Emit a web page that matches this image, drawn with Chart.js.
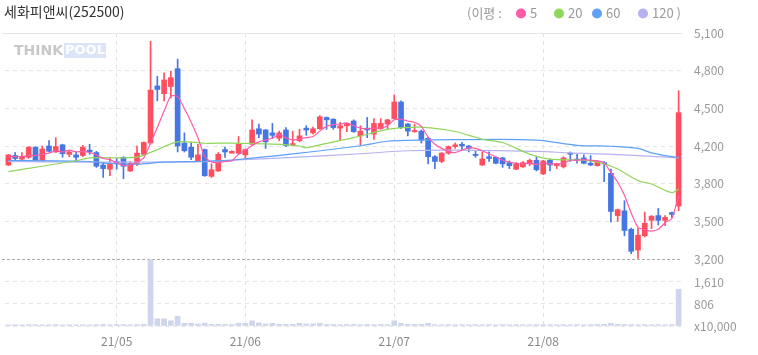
<!DOCTYPE html>
<html>
<head>
<meta charset="utf-8">
<script src="https://cdn.jsdelivr.net/npm/chart.js@4.4.1/dist/chart.umd.min.js"></script>
<style>
html, body { margin: 0; padding: 0; background: #fff; }
canvas { display: block; }
</style>
</head>
<body>
<canvas id="chart" width="758" height="355"></canvas>
<script>
// 거래일 (21/04/09 ~ 21/08/31)
var tradingDays = [
    ['04', [9, 12, 13, 14, 15, 16, 19, 20, 21, 22, 23, 26, 27, 28, 29, 30]],
    ['05', [3, 4, 6, 7, 10, 11, 12, 13, 14, 17, 18, 20, 21, 24, 25, 26, 27, 28, 31]],
    ['06', [1, 2, 3, 4, 7, 8, 9, 10, 11, 14, 15, 16, 17, 18, 21, 22, 23, 24, 25, 28, 29, 30]],
    ['07', [1, 2, 5, 6, 7, 8, 9, 12, 13, 14, 15, 16, 19, 20, 21, 22, 23, 26, 27, 28, 29, 30]],
    ['08', [2, 3, 4, 5, 6, 9, 10, 11, 12, 13, 17, 18, 19, 20, 23, 24, 25, 26, 27, 30, 31]]
];
var dates = [];
tradingDays.forEach(function (m) {
    m[1].forEach(function (d) { dates.push('21/' + m[0] + '/' + (d < 10 ? '0' + d : d)); });
});

// 시가 / 고가 / 저가 / 종가
var opens = [3990, 4070, 4040, 4055, 4140, 4025, 4150, 4100, 4160, 4080, 4075, 4070, 4115, 4095, 3990, 3955, 4020, 4055, 3940, 4000,
    4080, 4175, 4655, 4590, 4650, 4800, 4175, 4140, 4025, 4120, 3895, 3940, 4120, 4090, 4090, 4075, 4165, 4295, 4285, 4260,
    4215, 4285, 4160, 4195, 4300, 4260, 4295, 4390, 4375, 4300, 4320, 4360, 4235, 4300, 4250, 4295, 4335, 4380, 4520, 4335,
    4270, 4275, 4215, 4060, 4020, 4090, 4145, 4165, 4150, 4080, 3990, 4060, 4055, 4050, 4010, 3955, 3975, 4000, 4030, 3915,
    4030, 3985, 3975, 4090, 4040, 4050, 4005, 3985, 4010, 3920, 3565, 3605, 3450, 3275, 3395, 3525, 3565, 3525, 3590, 3645];
var highs = [4080, 4095, 4095, 4145, 4145, 4150, 4195, 4220, 4165, 4110, 4100, 4155, 4165, 4105, 4010, 4055, 4045, 4060, 4020, 4150,
    4185, 5030, 4735, 4765, 4780, 4880, 4260, 4180, 4165, 4125, 4000, 4095, 4140, 4110, 4230, 4125, 4370, 4335, 4290, 4340,
    4275, 4305, 4275, 4290, 4320, 4310, 4405, 4395, 4380, 4350, 4340, 4370, 4320, 4390, 4380, 4380, 4375, 4580, 4530, 4340,
    4335, 4285, 4220, 4070, 4095, 4150, 4175, 4180, 4155, 4110, 4100, 4100, 4060, 4055, 4025, 4010, 4020, 4040, 4060, 4030,
    4040, 4005, 4060, 4100, 4080, 4075, 4070, 4025, 4020, 3955, 3620, 3690, 3460, 3460, 3595, 3565, 3625, 3565, 3595, 4615];
var lows = [3985, 4020, 4035, 4045, 4025, 4020, 4100, 4095, 4055, 4060, 4025, 4060, 4080, 3970, 3885, 3900, 3955, 3875, 3935, 3985,
    4075, 4165, 4530, 4530, 4555, 4100, 4100, 4035, 4020, 3895, 3885, 3935, 4055, 4090, 4080, 4045, 4155, 4220, 4130, 4215,
    4195, 4145, 4150, 4185, 4240, 4250, 4290, 4290, 4290, 4200, 4270, 4265, 4155, 4220, 4205, 4290, 4290, 4375, 4295, 4235,
    4265, 4175, 4000, 3960, 4010, 4080, 4130, 4110, 4100, 4055, 3985, 4020, 4000, 3970, 3960, 3950, 3970, 3985, 3940, 3910,
    3940, 3960, 3965, 4020, 4005, 4000, 3985, 3980, 3850, 3510, 3515, 3395, 3245, 3205, 3385, 3455, 3485, 3480, 3550, 3605];
var closes = [4075, 4045, 4060, 4140, 4030, 4125, 4105, 4145, 4085, 4100, 4055, 4140, 4100, 3980, 3960, 4000, 4000, 3980, 4005, 4090,
    4180, 4620, 4625, 4705, 4725, 4150, 4110, 4055, 4075, 3900, 3950, 4080, 4100, 4105, 4165, 4120, 4285, 4250, 4185, 4240,
    4260, 4155, 4170, 4235, 4285, 4295, 4395, 4370, 4305, 4320, 4335, 4270, 4275, 4285, 4340, 4340, 4370, 4520, 4305, 4275,
    4280, 4200, 4060, 4020, 4090, 4145, 4160, 4150, 4130, 4070, 4040, 4045, 4005, 4000, 3985, 4000, 4010, 4030, 3950, 4025,
    3990, 4000, 4050, 4080, 4030, 4005, 3990, 4020, 4000, 3600, 3615, 3440, 3265, 3400, 3500, 3560, 3525, 3550, 3575, 4430];

// 거래량 (x10,000)
var volumes = [40, 45, 40, 50, 45, 40, 45, 50, 40, 45, 40, 45, 40, 50, 55, 45, 50, 55, 45, 50,
    60, 2420, 265, 265, 190, 355, 100, 100, 75, 100, 60, 60, 55, 55, 100, 100, 190, 115, 75, 100,
    60, 60, 60, 100, 75, 75, 100, 55, 55, 50, 55, 55, 50, 55, 50, 55, 50, 190, 100, 60,
    60, 60, 100, 50, 45, 50, 45, 50, 45, 50, 45, 50, 45, 50, 45, 50, 45, 45, 50, 45,
    50, 45, 50, 45, 50, 45, 50, 55, 60, 100, 60, 55, 50, 45, 50, 45, 50, 45, 50, 1345];

// 이동평균
var ma5 = [4060, 4060, 4060, 4070, 4070, 4080, 4090, 4110, 4100, 4115, 4100, 4105, 4095, 4075, 4045, 4035, 4010, 3985, 3990, 4015,
    4050, 4175, 4305, 4445, 4570, 4565, 4465, 4350, 4220, 4060, 4015, 4010, 4020, 4025, 4080, 4115, 4155, 4185, 4200, 4215,
    4245, 4220, 4200, 4210, 4220, 4230, 4275, 4315, 4330, 4335, 4345, 4320, 4300, 4295, 4300, 4300, 4320, 4370, 4375, 4360,
    4350, 4315, 4225, 4165, 4130, 4105, 4095, 4115, 4135, 4130, 4110, 4085, 4060, 4030, 4015, 4005, 4000, 4005, 3995, 4005,
    4000, 4000, 4005, 4030, 4030, 4035, 4030, 4025, 4010, 3925, 3845, 3735, 3585, 3465, 3445, 3435, 3450, 3505, 3540, 3730];
// [봉 번호, 값]
var ma20 = [[1, 3934], [6, 3980], [11, 4026], [13, 4050], [20, 4057], [23, 4120], [26, 4185], [30, 4173], [34, 4174],
    [40, 4165], [44, 4150], [45, 4136], [47, 4160], [52, 4220], [57, 4290], [59, 4303], [62, 4308], [67, 4272], [71, 4207],
    [74, 4179], [78, 4082], [81, 4040], [86, 4030], [89, 4000], [91, 3956], [94, 3859], [96, 3831], [99, 3758], [100, 3789]];
var ma60 = [[1, 4028], [12, 4022], [16, 4003], [20, 3998], [24, 4015], [30, 4022], [34, 4032], [43, 4083], [53, 4152],
    [57, 4190], [60, 4198], [67, 4203], [79, 4200], [85, 4156], [90, 4148], [94, 4130], [96, 4092], [99, 4060], [100, 4055]];
var ma120 = [[1, 4020], [12, 4015], [20, 4015], [30, 4018], [34, 4030], [43, 4055], [53, 4085], [60, 4110], [67, 4115],
    [79, 4105], [84, 4092], [91, 4078], [100, 4050]];

var priceTickLabels = ['3,200', '3,500', '3,800', '4,200', '4,500', '4,800', '5,100'];
var volTickValues = [0, 806, 1610];
var volTickLabels = ['x10,000', '806', '1,610'];

var PRICE_TOP = 5100, PRICE_BOTTOM = 3200;
var UP = '#ff4f5f', DOWN = '#4576e4';
var MA_COLORS = ['#ff5aa8', '#8fd65a', '#5fa0f7', '#b6b2f2'];

var upDown = closes.map(function (c, i) { return c >= opens[i] ? UP : DOWN; });
var bodies = opens.map(function (o, i) { return [o, closes[i]]; });
var wicks = lows.map(function (l, i) { return [l, highs[i]]; });
var toPts = function (arr) { return arr.map(function (p) { return { x: dates[p[0] - 1], y: p[1] }; }); };
var isMonthStart = function (i) { return i > 0 && dates[i].slice(3, 5) !== dates[i - 1].slice(3, 5); };

var font = "'Noto Sans CJK KR', 'Noto Sans', sans-serif";
Chart.defaults.font.family = font;
Chart.defaults.color = '#999';

var overlay = {
    id: 'overlay',
    beforeDatasetsDraw: function (chart) {
        var ctx = chart.ctx, a = chart.chartArea;
        ctx.save();
        // 워터마크
        ctx.textBaseline = 'middle';
        ctx.font = "bold 14px 'DejaVu Sans', sans-serif";
        ctx.fillStyle = '#c8c8c8';
        ctx.fillText('THINK', 14, 51);
        ctx.fillStyle = '#dce5f7';
        ctx.fillRect(64, 43, 42, 15);
        ctx.font = "bold 13px 'DejaVu Sans', sans-serif";
        ctx.fillStyle = '#fff';
        ctx.fillText('POOL', 65, 51);
        // 상단선
        ctx.strokeStyle = '#e6e6e6';
        ctx.lineWidth = 1;
        ctx.beginPath();
        ctx.moveTo(2, a.top + 0.5);
        ctx.lineTo(a.right, a.top + 0.5);
        ctx.stroke();
        // 가격/거래량 구분선
        var y = Math.round(chart.scales.y.getPixelForValue(PRICE_BOTTOM)) + 0.5;
        ctx.strokeStyle = '#aaaaaa';
        ctx.setLineDash([3, 2]);
        ctx.beginPath();
        ctx.moveTo(2, y);
        ctx.lineTo(a.right, y);
        ctx.stroke();
        ctx.restore();
    },
    afterDraw: function (chart) {
        var ctx = chart.ctx, a = chart.chartArea, yv = chart.scales.yv;
        ctx.save();
        ctx.textBaseline = 'middle';
        // 거래량 축 라벨
        ctx.font = '12px ' + font;
        ctx.fillStyle = '#999';
        volTickValues.forEach(function (v, i) {
            ctx.fillText(volTickLabels[i], a.right + 12, yv.getPixelForValue(v));
        });
        ctx.font = '14px ' + font;
        ctx.fillStyle = '#333';
        ctx.fillText('세화피앤씨(252500)', 4, 12);
        ctx.font = '13px ' + font;
        ctx.fillStyle = '#999';
        ctx.fillText('(이평 :', 467, 13);
        var items = [['5', 521], ['20', 559], ['60', 597], ['120 )', 643]];
        items.forEach(function (it, i) {
            ctx.fillStyle = MA_COLORS[i];
            ctx.beginPath();
            ctx.arc(it[1], 13.5, 5, 0, Math.PI * 2);
            ctx.fill();
            ctx.fillStyle = '#999';
            ctx.fillText(it[0], it[1] + 9, 13);
        });
        ctx.restore();
    }
};

var lineDs = function (data, color, order, tension) {
    return {
        type: 'line', data: data, yAxisID: 'y', borderColor: color, borderWidth: 1.2,
        pointRadius: 0, tension: tension, order: order, spanGaps: true
    };
};

new Chart(document.getElementById('chart'), {
    type: 'bar',
    data: {
        labels: dates,
        datasets: [
            lineDs(ma5, MA_COLORS[0], 0, 0.2),
            lineDs(toPts(ma20), MA_COLORS[1], 1, 0.3),
            lineDs(toPts(ma60), MA_COLORS[2], 1, 0.3),
            lineDs(toPts(ma120), MA_COLORS[3], 1, 0.3),
            { data: bodies, yAxisID: 'y', backgroundColor: upDown, barThickness: 5, minBarLength: 1, grouped: false, order: 2 },
            { data: wicks, yAxisID: 'y', backgroundColor: upDown, barThickness: 1, grouped: false, order: 3 },
            { data: volumes, yAxisID: 'yv', backgroundColor: '#cfd5ea', barThickness: 5, minBarLength: 1, grouped: false, order: 4 }
        ]
    },
    options: {
        responsive: false,
        animation: false,
        events: [],
        layout: { padding: { top: 33, left: 5, right: 0, bottom: 0 } },
        plugins: { legend: { display: false }, tooltip: { enabled: false } },
        scales: {
            x: {
                offset: true,
                afterFit: function (s) { s.height = 29; },
                grid: {
                    offset: false,
                    drawTicks: false,
                    color: function (c) { return c.index !== undefined && isMonthStart(c.index) ? '#e2e2e2' : 'rgba(0,0,0,0)'; }
                },
                border: { display: false, dash: [4, 4] },
                ticks: {
                    autoSkip: false, maxRotation: 0, padding: 8, color: '#888', font: { size: 12 },
                    callback: function (v, i) { return isMonthStart(i) ? dates[i].slice(0, 5) : ''; }
                }
            },
            yv: {
                position: 'right',
                weight: 0,
                min: 0,
                max: 10715,
                afterFit: function (s) { s.width = 0; },
                afterBuildTicks: function (s) { s.ticks = volTickValues.map(function (v) { return { value: v }; }); },
                grid: {
                    drawTicks: false,
                    color: function (c) { return c.tick && c.tick.value === 0 ? '#e6e6e6' : '#e4e4e4'; }
                },
                border: { display: false, dash: [4, 4] },
                ticks: { display: false }
            },
            y: {
                position: 'right',
                weight: 1,
                min: PRICE_BOTTOM - (PRICE_TOP - PRICE_BOTTOM) * 67 / 226,
                max: PRICE_TOP,
                afterFit: function (s) { s.width = 76; },
                afterBuildTicks: function (s) {
                    s.ticks = priceTickLabels.map(function (t, i) {
                        return { value: PRICE_BOTTOM + (PRICE_TOP - PRICE_BOTTOM) * i / (priceTickLabels.length - 1) };
                    });
                },
                grid: {
                    drawTicks: false,
                    color: function (c) {
                        var i = c.index;
                        return (i === 0 || i === priceTickLabels.length - 1) ? 'rgba(0,0,0,0)' : '#e4e4e4';
                    }
                },
                border: { display: false, dash: [4, 4] },
                ticks: {
                    padding: 12, font: { size: 12 }, color: '#999',
                    callback: function (v, i) { return priceTickLabels[i]; }
                }
            }
        }
    },
    plugins: [overlay]
});
</script>
</body>
</html>
